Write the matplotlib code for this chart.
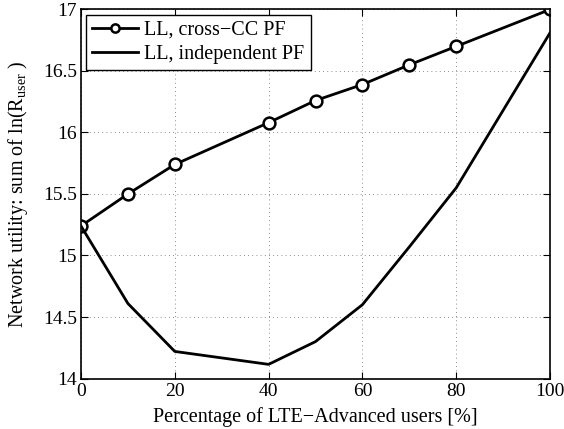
import matplotlib
matplotlib.use('Agg')
import matplotlib.pyplot as plt

plt.rcParams['font.family'] = ['Liberation Serif', 'DejaVu Serif']
plt.rcParams['mathtext.fontset'] = 'custom'
plt.rcParams['mathtext.rm'] = 'Liberation Serif'

# percentage of LTE-Advanced users
x_cross = [0, 10, 20, 40, 50, 60, 70, 80, 100]
y_cross = [15.24, 15.50, 15.74, 16.08, 16.26, 16.39, 16.55, 16.70, 17.0]

x_indep = [0, 10, 20, 40, 50, 60, 70, 80, 100]
y_indep = [15.24, 14.61, 14.22, 14.115, 14.30, 14.60, 15.07, 15.55, 16.81]

fig = plt.figure(figsize=(5.64, 4.29), dpi=100)
ax = fig.add_axes([0.1436, 0.1177, 0.8316, 0.8602])

ax.plot(x_cross, y_cross, '-o', color='black', lw=2, ms=8.5, mew=1.8,
        mfc='white', label='LL, cross\u2212CC PF')
ax.plot(x_indep, y_indep, '-', color='black', lw=2, label='LL, independent PF')

ax.set_xlim(0, 100)
ax.set_ylim(14, 17)
ax.set_xticks(range(0, 101, 20))
ax.set_yticks([14, 14.5, 15, 15.5, 16, 16.5, 17])
ax.set_yticklabels(['14', '14.5', '15', '15.5', '16', '16.5', '17'])

ax.grid(True, linestyle=(0, (1, 4)), color='black', lw=0.6, alpha=0.6)
ax.tick_params(direction='in', top=True, right=True, labelsize=14, length=5, pad=3)
for s in ax.spines.values():
    s.set_linewidth(1.2)

ax.set_xlabel('Percentage of LTE\u2212Advanced users [%]', fontsize=14.5, labelpad=5)
ax.set_ylabel(r'Network utility: sum of ln(R$_{\mathregular{user}}$ )', fontsize=14.5, labelpad=9)

leg = ax.legend(loc='upper left', fontsize=14.5, frameon=True, fancybox=False,
                edgecolor='black', framealpha=1, borderaxespad=0.25, markerscale=0.7,
                handlelength=2.3, borderpad=0.3, labelspacing=0.25, handletextpad=0.3)
leg.get_frame().set_linewidth(1.0)

fig.savefig('out.png', dpi=100)
